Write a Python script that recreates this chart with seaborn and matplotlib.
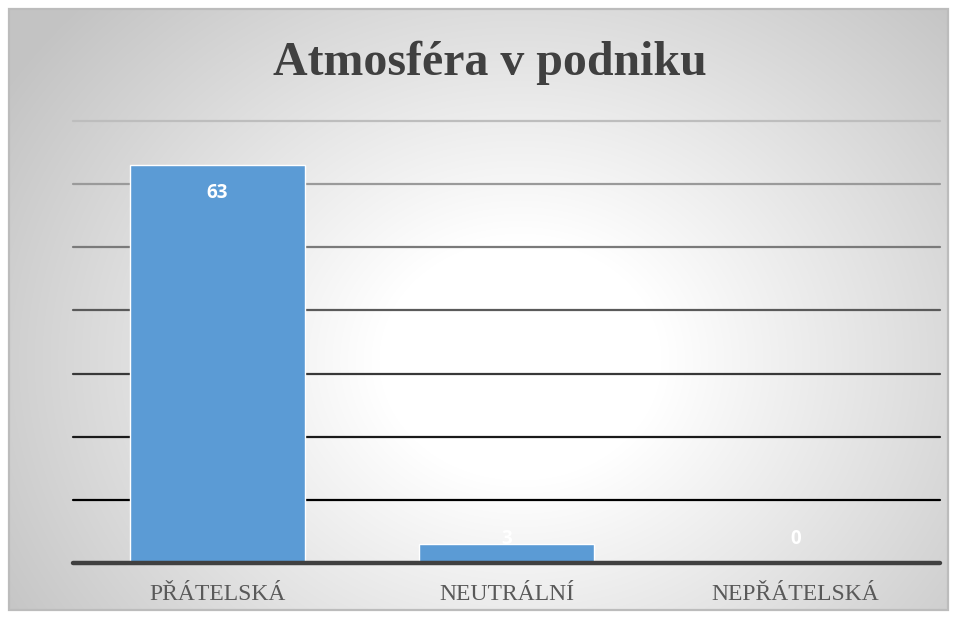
import numpy as np
import pandas as pd
import seaborn as sns
import matplotlib.pyplot as plt
from matplotlib.patches import Rectangle

# ---- data ----
categories = ["PŘÁTELSKÁ", "NEUTRÁLNÍ", "NEPŘÁTELSKÁ"]
values = [63, 3, 0]
y_ticks = [0, 10, 20, 30, 40, 50, 60, 70]
title = "Atmosféra v podniku"

W, H = 957, 619
sns.set_theme(style="white")
plt.rcParams['font.family'] = ['Liberation Serif', 'DejaVu Serif']

fig = plt.figure(figsize=(W / 100, H / 100), dpi=100)

# ---- background with radial gradient ----
bg = fig.add_axes([0, 0, 1, 1], zorder=-10)
yy, xx = np.mgrid[0:H, 0:W]
r = np.sqrt(((xx - 520) / 470.0) ** 2 + ((yy - 360) / 400.0) ** 2)
t = np.clip((r - 0.3) / (1.3 - 0.3), 0, 1)
v = 255 - 60 * t
inside = (xx >= 9) & (xx <= 948) & (yy >= 9) & (yy <= 610)
v = np.where(inside, v, 255)
img = np.dstack([v, v, v]).astype(np.uint8)
bg.imshow(img, extent=[0, W, H, 0], interpolation='bilinear')
bg.add_patch(Rectangle((9, 9), 939, 601, fill=False, edgecolor='#bcbcbc', lw=1.6))
bg.set_xlim(0, W)
bg.set_ylim(H, 0)
bg.axis('off')

# ---- plot axes ----
ax_l, ax_r, ax_t, ax_b = 73, 940, 121, 563
ax = fig.add_axes([ax_l / W, 1 - ax_b / H, (ax_r - ax_l) / W, (ax_b - ax_t) / H])
ax.patch.set_alpha(0)

df = pd.DataFrame({"cat": categories, "val": values})
sns.barplot(data=df, x="cat", y="val", color="#5B9BD5", saturation=1,
            width=0.605, edgecolor="white", linewidth=1.0, ax=ax, zorder=3)

ax.set_xlim(-0.5, len(categories) - 0.5)
ax.set_ylim(y_ticks[0], y_ticks[-1])

grid_colors = ['#000000', '#1a1a1a', '#383838', '#5a5a5a', '#7a7a7a', '#9a9a9a', '#bdbdbd']
for yv, c in zip(y_ticks[1:], grid_colors):
    ax.axhline(yv, color=c, lw=1.6, zorder=1, clip_on=False)
ax.axhline(0, color='#404040', lw=3.2, zorder=4, clip_on=False)

for s in ax.spines.values():
    s.set_visible(False)
ax.set_yticks([])
ax.set_xlabel("")
ax.set_ylabel("")
ax.tick_params(axis='x', length=0, pad=15)
for lab in ax.get_xticklabels():
    lab.set_fontsize(17)
    lab.set_color('#595959')
    lab.set_fontfamily(['Liberation Serif'])

# data labels (inside end, white)
px_per_unit = (ax_b - ax_t) / (y_ticks[-1] - y_ticks[0])
for i, val in enumerate(values):
    ly = max(val - 28 / px_per_unit, 24 / px_per_unit)
    z = 6 if ly < val else 2
    ax.text(i, ly, str(val), ha='center', va='center', color='white',
            fontsize=13.5, fontweight='bold', fontfamily=['Open Sans', 'DejaVu Sans'], zorder=z)

fig.text(489.5 / W, 1 - 63 / H, title, ha='center', va='center', fontsize=34.5,
         fontweight='bold', color='#404040', fontfamily=['Liberation Serif'])

fig.savefig("out.png", dpi=100)
